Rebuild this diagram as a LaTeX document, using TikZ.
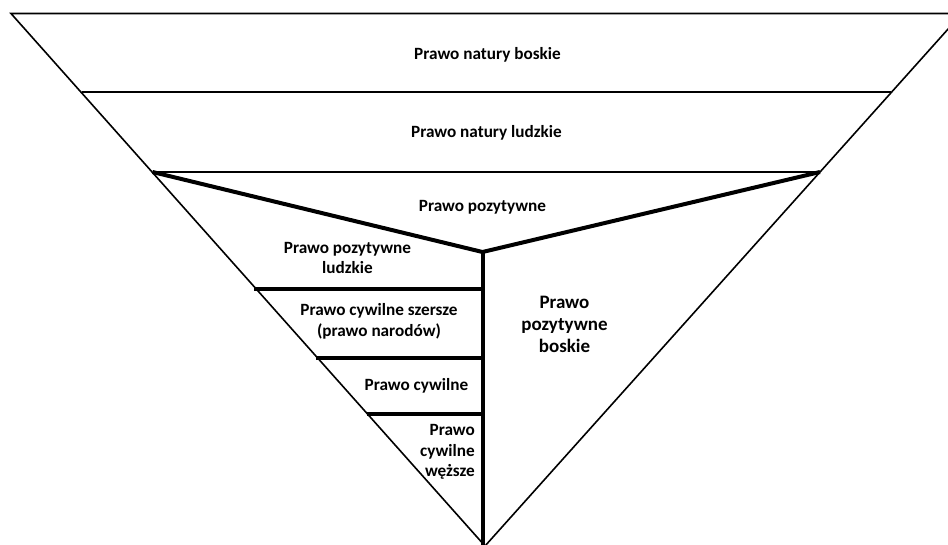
\documentclass[tikz,border=0pt]{standalone}
\usepackage{fontspec}
\setmainfont{Carlito}
\begin{document}
\begin{tikzpicture}[x=1pt,y=-1pt,
  thinline/.style={line width=1.6pt, line join=miter},
  thickline/.style={line width=4pt, line join=miter},
  txt/.style={font=\fontsize{17.2}{20.8}\selectfont\bfseries, align=center, inner sep=0pt},
  bigtxt/.style={font=\fontsize{19}{22}\selectfont\bfseries, align=center, inner sep=0pt}]
\useasboundingbox (0,0) rectangle (948,544);
\clip (0,0) rectangle (948,544);
\coordinate (TL) at (11,13.5);
\coordinate (TR) at (962,13.5);
\coordinate (A) at (485,546);
\coordinate (L2) at (81.5,92);
\coordinate (R2) at (891,92);
\coordinate (L3) at (152.5,172);
\coordinate (R3) at (820,172);
\coordinate (J) at (482.5,252);
\coordinate (B) at (482.5,548);
\coordinate (H1L) at (254,288.5);
\coordinate (H1R) at (482.5,288.5);
\coordinate (H2L) at (316,358);
\coordinate (H2R) at (482.5,358);
\coordinate (H3L) at (366.5,413.5);
\coordinate (H3R) at (482.5,413.5);
% outline
\draw[thinline] (TL) -- (A) -- (TR) -- cycle;
\draw[thinline] (L2) -- (R2);
\draw[thinline] (L3) -- (R3);
% thick division
\draw[thickline] (L3) -- (J) -- (R3);
\draw[thickline] (J) -- (B);
\draw[thickline] (H1L) -- (H1R);
\draw[thickline] (H2L) -- (H2R);
\draw[thickline] (H3L) -- (H3R);
% texts
\node[txt, anchor=base] (t1) at (487.5,59) {Prawo natury boskie};
\node[txt, anchor=base] (t2) at (486.5,137.5) {Prawo natury ludzkie};
\node[txt, anchor=base] (t3) at (482.5,211) {Prawo pozytywne};
\node[txt] (t4) at (347.5,258) {Prawo pozytywne\\ludzkie};
\node[txt] (t5) at (379,321.5) {Prawo cywilne szersze\\(prawo narodów)};
\node[txt, anchor=base] (t6) at (416.5,390) {Prawo cywilne};
\node[txt, align=right, anchor=east] (t7) at (475,452) {Prawo\\cywilne\\węższe};
\node[bigtxt] (t8) at (564.5,324.5) {Prawo\\pozytywne\\boskie};
\end{tikzpicture}
\end{document}
